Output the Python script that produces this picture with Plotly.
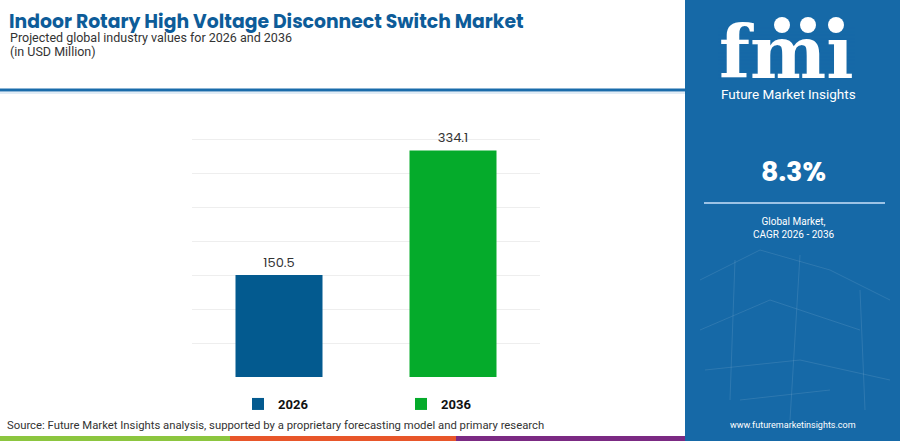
import plotly.graph_objects as go

years = ["2026", "2036"]
values = [150.5, 334.1]
bar_colors = ["#035a8f", "#05ab2b"]

title = "Indoor Rotary High Voltage Disconnect Switch Market"
subtitle = "Projected global industry values for 2026 and 2036"
units = "(in USD Million)"
cagr = "8.3%"
cagr_label = "Global Market,<br>CAGR 2026 - 2036"
source = "Source: Future Market Insights analysis, supported by a proprietary forecasting model and primary research"

panel_blue = "#1669a7"

# plot area in page pixels
L, R, T, B = 192, 540, 105, 377


def px_x(px):
    return (px - L) / (R - L)


def px_y(py):
    return (B - py) / (B - T)


fig = go.Figure()

for year, val, col in zip(years, values, bar_colors):
    fig.add_trace(go.Bar(
        x=[year], y=[val], name=year,
        marker=dict(color=col, line=dict(width=0)),
        width=0.5,
        text=[f"{val:.1f}"], textposition="outside",
        textfont=dict(family="Poppins, Roboto, Arial", size=13, color="#333333"),
        cliponaxis=False,
    ))

fig.update_layout(
    width=900, height=441,
    margin=dict(l=L, r=900 - R, t=T, b=441 - B, autoexpand=False),
    paper_bgcolor="white", plot_bgcolor="white",
    barmode="overlay",
    font=dict(family="Roboto, Arial", color="#333333"),
    showlegend=True,
    legend=dict(
        orientation="h", x=px_x(238), y=px_y(389), xanchor="left", yanchor="top",
        entrywidth=118, entrywidthmode="pixels", itemwidth=30,
        font=dict(family="Roboto, Arial", size=13, color="#111111", weight="bold"),
        bgcolor="rgba(0,0,0,0)",
    ),
    xaxis=dict(showticklabels=False, showgrid=False, zeroline=False, showline=False),
    yaxis=dict(range=[0, 401], tickvals=[0, 50, 100, 150, 200, 250, 300, 350, 400],
               showticklabels=False, showgrid=True,
               gridcolor="#eeeeee", gridwidth=1, zeroline=False, showline=False),
)

shapes = []
# right panel
shapes.append(dict(type="rect", xref="x domain", yref="y domain",
                   x0=px_x(685), x1=px_x(900), y0=px_y(441), y1=px_y(0),
                   fillcolor=panel_blue, line=dict(width=0), layer="below"))
# blue header rule
shapes.append(dict(type="line", xref="x domain", yref="y domain",
                   x0=px_x(0), x1=px_x(685), y0=px_y(90), y1=px_y(90),
                   line=dict(color="#1a6cab", width=3)))
shapes.append(dict(type="line", xref="x domain", yref="y domain",
                   x0=px_x(0), x1=px_x(685), y0=px_y(93), y1=px_y(93),
                   line=dict(color="#c3d9ec", width=1)))
# bottom colour stripe
for x0, x1, col in [(0, 230, "#8cc63f"), (230, 456, "#e8562a"), (456, 685, "#7b2a83")]:
    shapes.append(dict(type="rect", xref="x domain", yref="y domain",
                       x0=px_x(x0), x1=px_x(x1), y0=px_y(441), y1=px_y(436),
                       fillcolor=col, line=dict(width=0)))
# divider in panel
shapes.append(dict(type="line", xref="x domain", yref="y domain",
                   x0=px_x(704), x1=px_x(885), y0=px_y(203), y1=px_y(203),
                   line=dict(color="#9cc3e6", width=2)))
# faint network lines in panel
net = [(700, 280, 760, 250), (760, 250, 830, 270), (830, 270, 890, 300), (700, 330, 770, 300),
       (770, 300, 860, 330), (735, 260, 730, 400), (800, 255, 790, 420), (860, 290, 865, 410),
       (705, 370, 800, 360), (800, 360, 890, 380), (740, 400, 830, 390)]
for x0, y0, x1, y1 in net:
    shapes.append(dict(type="line", xref="x domain", yref="y domain",
                       x0=px_x(x0), x1=px_x(x1), y0=px_y(y0), y1=px_y(y1),
                       line=dict(color="rgba(255,255,255,0.10)", width=1)))

# logo: stripes over the letters, globes above
y = 28
while y < 80:
    shapes.append(dict(type="line", xref="x domain", yref="y domain",
                       x0=px_x(718), x1=px_x(855), y0=px_y(y), y1=px_y(y),
                       line=dict(color=panel_blue, width=1)))
    y += 3.6
for cx in [782, 808, 836]:
    shapes.append(dict(type="circle", xref="x domain", yref="y domain",
                       x0=px_x(cx - 8), x1=px_x(cx + 8), y0=px_y(33), y1=px_y(17),
                       fillcolor="white", line=dict(width=0)))


def note(text, x, y, size, color="#333333", anchor="left", weight="normal", family="Roboto, Arial"):
    return dict(text=text, x=px_x(x), y=px_y(y), xref="x domain", yref="y domain",
                xanchor=anchor, yanchor="middle", showarrow=False,
                font=dict(family=family, size=size, color=color, weight=weight))


annotations = [
    note(title, 7, 21, 18.8, "#0d5c99", weight="bold", family="Poppins, Roboto, Arial"),
    note(subtitle, 8, 37, 12.5),
    note(units, 8, 51, 12.5),
    note(source, 5, 425, 11.3),
    note("fm\u0131", 786, 52, 72, "white", "center", "bold", "DejaVu Serif"),
    note("Future Market Insights", 788, 94, 13.5, "white", "center"),
    note(cagr, 793, 171, 27, "white", "center", "bold", "Poppins, Roboto, Arial"),
    note(cagr_label, 793, 228, 10, "white", "center"),
    note("www.futuremarketinsights.com", 793, 425, 9, "white", "center"),
]

fig.update_layout(shapes=shapes, annotations=annotations)

fig.write_html("out.html", config={"displayModeBar": False},
               post_script="document.body.style.margin='0px';")
